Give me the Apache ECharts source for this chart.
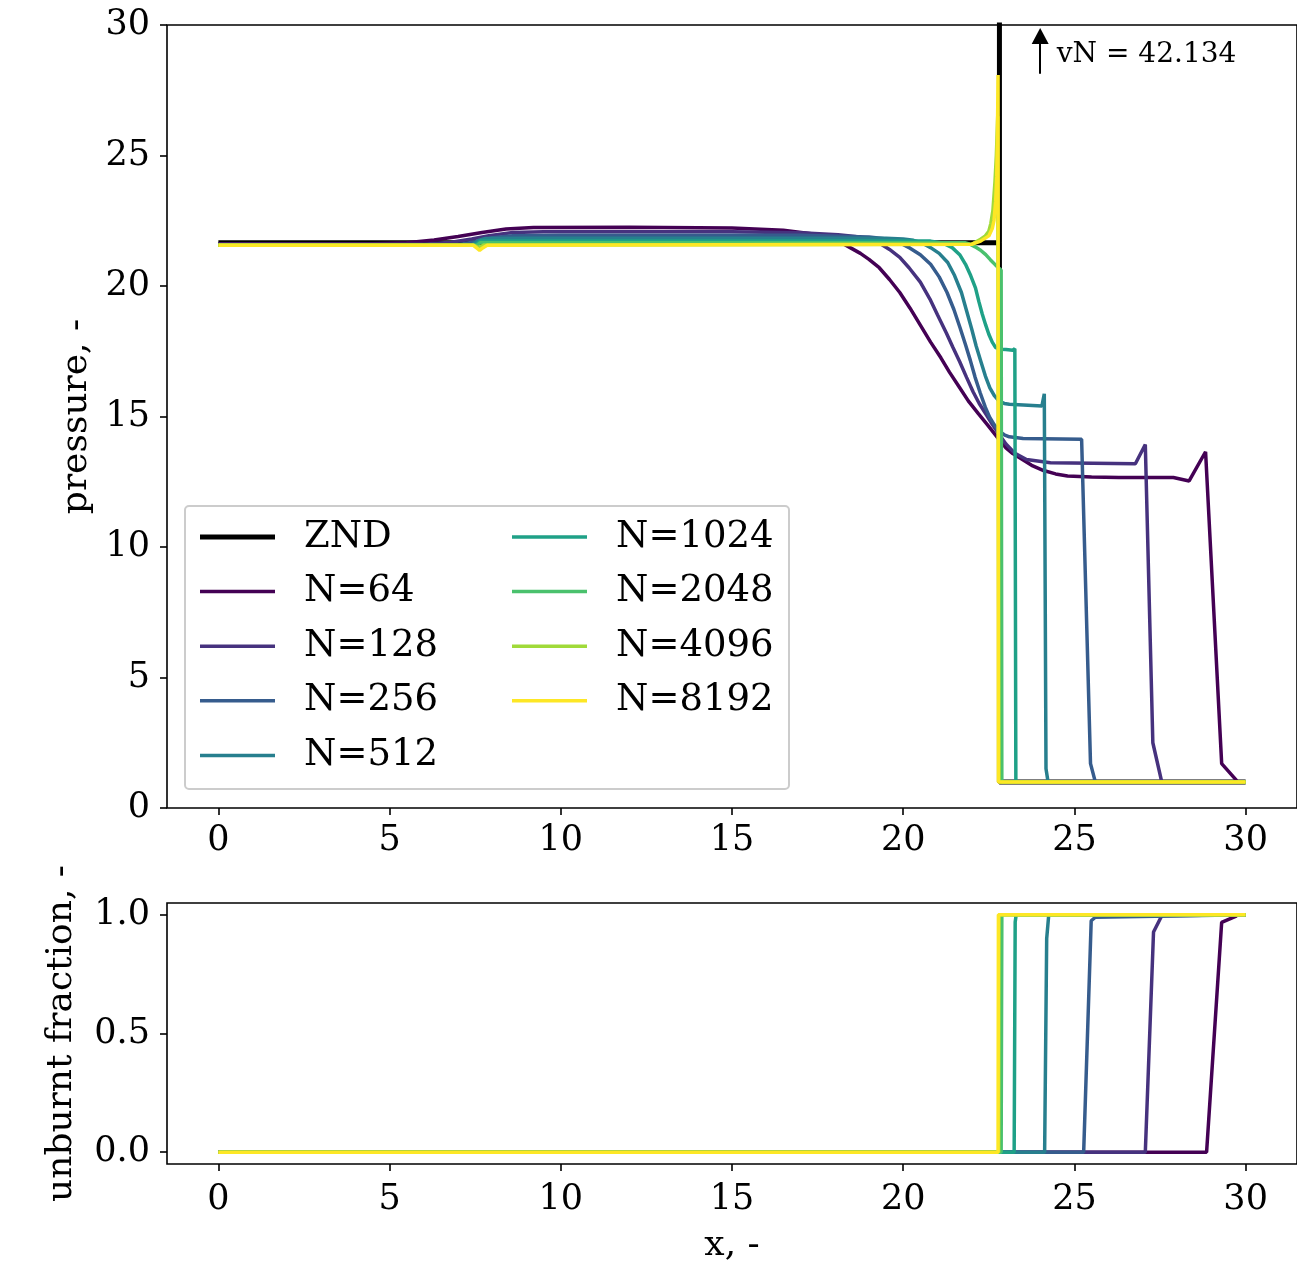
<!DOCTYPE html>
<html><head><meta charset="utf-8">
<script src="https://cdn.jsdelivr.net/npm/echarts@6/dist/echarts.min.js"></script>
<style>html,body{margin:0;padding:0;background:#fff}#c{width:1297px;height:1268px}</style>
</head><body><div id="c"></div>
<script>
// ---------- data ----------
const seriesNames = ['N=64','N=128','N=256','N=512','N=1024','N=2048','N=4096','N=8192'];
const xTicks = [0,5,10,15,20,25,30];
const pTicks = [0,5,10,15,20,25,30];
const uTicks = [0,0.5,1];
const vnValue = 42.134;
const vnArrow = [[24,28.13],[24,29.58]];
const vnLabelAt = [24.47,28.86];

const pZND = [[0,21.66],[22.81,21.66],[22.81,42.134],[22.81,1.0],[30,1.0]];

const p64 = [[0,21.62],[4.5,21.62],[5.5,21.66],[6.3,21.76],[7.0,21.9],[7.7,22.05],[8.4,22.18],[9.2,22.24],[12.0,22.25],[15.0,22.22],[16.5,22.14],[17.6,21.95],[18.0,21.8],[18.45,21.47],[18.75,21.25],[19.0,21.02],[19.3,20.7],[19.6,20.25],[19.9,19.75],[20.2,19.15],[20.5,18.5],[20.8,17.85],[21.1,17.25],[21.35,16.7],[21.65,16.1],[21.9,15.6],[22.2,15.1],[22.45,14.7],[22.75,14.2],[23.0,13.8],[23.2,13.58],[23.4,13.42],[23.75,13.13],[24.1,12.93],[24.45,12.8],[24.8,12.72],[25.5,12.68],[26.3,12.66],[27.89,12.66],[28.35,12.53],[28.83,13.65],[29.30,1.7],[29.74,1.05]];
const p128 = [[0,21.6],[6.0,21.6],[6.8,21.68],[7.4,21.8],[7.9,21.93],[8.6,22.05],[9.5,22.08],[15.0,22.08],[17.0,22.04],[18.1,21.96],[18.6,21.9],[19.0,21.8],[19.3,21.65],[19.6,21.4],[19.9,21.1],[20.17,20.7],[20.5,20.15],[20.78,19.5],[21.0,18.9],[21.26,18.2],[21.45,17.65],[21.65,17.1],[21.85,16.5],[22.04,15.95],[22.22,15.5],[22.41,15.1],[22.6,14.7],[22.8,14.32],[23.0,13.95],[23.25,13.6],[23.6,13.35],[24.3,13.23],[26.78,13.19],[27.07,13.93],[27.29,2.5],[27.55,1.0],[30,1.0]];
const p256 = [[0,21.58],[7.0,21.58],[7.5,21.7],[8.0,21.85],[8.6,21.93],[10,21.94],[17.0,21.94],[19.0,21.88],[19.4,21.82],[19.7,21.72],[19.95,21.62],[20.2,21.45],[20.5,21.2],[20.8,20.83],[21.05,20.35],[21.28,19.75],[21.48,19.1],[21.66,18.4],[21.82,17.75],[21.96,17.15],[22.1,16.5],[22.25,15.9],[22.4,15.35],[22.52,14.98],[22.66,14.68],[22.8,14.44],[22.95,14.3],[23.1,14.22],[23.5,14.16],[25.21,14.13],[25.47,1.7],[25.61,1.0],[30,1.0]];
const p512 = [[0,21.57],[7.4,21.57],[7.6,21.75],[7.8,21.82],[9,21.83],[19.5,21.83],[20.0,21.8],[20.3,21.75],[20.55,21.65],[20.8,21.47],[21.05,21.25],[21.3,20.9],[21.5,20.4],[21.7,19.75],[21.85,19.05],[22.0,18.35],[22.13,17.7],[22.27,17.1],[22.4,16.55],[22.53,16.1],[22.66,15.8],[22.8,15.59],[22.95,15.5],[23.1,15.47],[24.05,15.4],[24.12,15.87],[24.17,1.5],[24.23,1.0],[30,1.0]];
const p1024 = [[0,21.57],[7.5,21.57],[7.65,21.72],[20.8,21.72],[21.15,21.65],[21.43,21.47],[21.65,21.2],[21.82,20.83],[21.97,20.4],[22.11,19.93],[22.21,19.4],[22.31,18.92],[22.41,18.5],[22.5,18.15],[22.6,17.85],[22.7,17.64],[22.85,17.58],[23.0,17.57],[23.2,17.54],[23.26,17.6],[23.29,1.0],[30,1.0]];
const p2048 = [[0,21.56],[7.55,21.56],[7.65,21.66],[21.8,21.66],[21.95,21.6],[22.1,21.5],[22.26,21.37],[22.41,21.2],[22.55,21.0],[22.7,20.8],[22.86,20.6],[22.88,1.0],[30,1.0]];
const p4096 = [[0,21.57],[7.45,21.57],[7.6,21.47],[7.75,21.57],[22.0,21.6],[22.26,21.79],[22.4,21.92],[22.5,22.1],[22.56,22.4],[22.62,22.9],[22.68,24.0],[22.72,25.0],[22.76,26.5],[22.8,1.0],[30,1.0]];
const p8192 = [[0,21.56],[7.45,21.56],[7.55,21.45],[7.63,21.37],[7.72,21.46],[7.85,21.56],[22.0,21.6],[22.26,21.72],[22.5,21.92],[22.6,22.2],[22.65,22.5],[22.7,23.25],[22.73,24.2],[22.75,25.6],[22.77,28.08],[22.78,1.0],[30,1.0]];

const u64 = [[0,0],[28.86,0],[29.30,0.968],[29.74,0.996]];
const u128 = [[0,0],[27.07,0],[27.31,0.928],[27.55,0.996],[30,1]];
const u256 = [[0,0],[25.27,0],[25.49,0.975],[25.61,0.99],[30,1]];
const u512 = [[0,0],[24.13,0],[24.19,0.9],[24.25,1],[30,1]];
const u1024 = [[0,0],[23.24,0],[23.27,0.97],[23.3,1],[30,1]];
const u2048 = [[0,0],[22.86,0],[22.88,1],[30,1]];
const u4096 = [[0,0],[22.79,0],[22.8,1],[30,1]];
const u8192 = [[0,0],[22.77,0],[22.78,1],[30,1]];

const pressureSets = [p64,p128,p256,p512,p1024,p2048,p4096,p8192];
const unburntSets = [u64,u128,u256,u512,u1024,u2048,u4096,u8192];

// ---------- style ----------
const viridis = ['#440154','#46327e','#365c8d','#277f8e','#1fa187','#4ac16d','#a0da39','#fde725'];
const FONT = 'DejaVu Serif';
const TICK_FS = 35;
const LW = 3.5, ZND_LW = 5;

function xAxisDef(gi, margin, extra) {
  return Object.assign({
    gridIndex: gi, type: 'value', min: -1.5, max: 31.5,
    axisLine: {show: false, onZero: false},
    splitLine: {show: false},
    axisTick: {show: true, length: 7, customValues: xTicks, lineStyle: {color: '#000', width: 1.6}},
    axisLabel: {customValues: xTicks, fontFamily: FONT, fontSize: TICK_FS, color: '#000', margin: margin}
  }, extra || {});
}
function yAxisDef(gi, min, max, ticks, fmt, extra) {
  return Object.assign({
    gridIndex: gi, type: 'value', min: min, max: max,
    axisLine: {show: false, onZero: false},
    splitLine: {show: false},
    axisTick: {show: true, length: 7, customValues: ticks, lineStyle: {color: '#000', width: 1.6}},
    axisLabel: {customValues: ticks, fontFamily: FONT, fontSize: TICK_FS, color: '#000', margin: 17,
      padding: [9, 0, 0, 0], formatter: fmt}
  }, extra || {});
}

const series = [];
series.push({
  name: 'ZND', type: 'line', xAxisIndex: 0, yAxisIndex: 0, data: pZND,
  symbol: 'none', lineStyle: {color: '#000', width: ZND_LW}, itemStyle: {color: '#000'},
  clip: true, silent: true,
  markLine: {
    silent: true, symbol: ['none', 'triangle'], symbolSize: [17, 16],
    lineStyle: {color: '#000', width: 2, type: 'solid'}, label: {show: false},
    data: [[{coord: vnArrow[0]}, {coord: vnArrow[1]}]]
  },
  markPoint: {
    silent: true,
    data: [{coord: vnLabelAt, symbol: 'circle', symbolSize: 1, itemStyle: {color: 'rgba(0,0,0,0)'},
      label: {show: true, position: 'right', distance: 0, formatter: 'vN = ' + vnValue,
        fontFamily: FONT, fontSize: 28, color: '#000'}}]
  }
});
seriesNames.forEach((n, i) => {
  series.push({name: n, type: 'line', xAxisIndex: 0, yAxisIndex: 0, data: pressureSets[i],
    symbol: 'none', lineStyle: {color: viridis[i], width: LW}, itemStyle: {color: viridis[i]}, clip: true, silent: true});
});
seriesNames.forEach((n, i) => {
  series.push({name: n, type: 'line', xAxisIndex: 1, yAxisIndex: 1, data: unburntSets[i],
    symbol: 'none', lineStyle: {color: viridis[i], width: LW}, itemStyle: {color: viridis[i]}, clip: true, silent: true});
});

const iconZND = 'path://M0,0h75v5h-75z';
const iconN = 'path://M0,0h75v3.5h-75z';
const legendCommon = {
  orient: 'vertical', padding: 0, itemWidth: 75, itemHeight: 14, itemGap: 14.6,
  selectedMode: false, itemStyle: {borderWidth: 0},
  textStyle: {fontFamily: FONT, fontSize: 37, color: '#000', lineHeight: 40, padding: [0, 0, 0, 24]}
};
const col1 = ['ZND', 'N=64', 'N=128', 'N=256', 'N=512'];
const col2 = ['N=1024', 'N=2048', 'N=4096', 'N=8192'];

const option = {
  animation: false,
  backgroundColor: '#fff',
  grid: [
    {left: 167, top: 25, right: -2, bottom: 460, show: true, borderColor: '#000', borderWidth: 1.6, backgroundColor: 'transparent'},
    {left: 167, top: 903, right: -2, bottom: 104, show: true, borderColor: '#000', borderWidth: 1.6, backgroundColor: 'transparent'}
  ],
  xAxis: [
    xAxisDef(0, 15),
    xAxisDef(1, 18, {name: 'x, -', nameLocation: 'middle', nameGap: 64,
      nameTextStyle: {fontFamily: FONT, fontSize: 36, color: '#000'}})
  ],
  yAxis: [
    yAxisDef(0, 0, 30, pTicks, v => String(v), {name: 'pressure, -', nameLocation: 'middle', nameGap: 70,
      nameTextStyle: {fontFamily: FONT, fontSize: 36, color: '#000'}}),
    yAxisDef(1, -0.05, 1.05, uTicks, v => v.toFixed(1), {name: 'unburnt fraction, -', nameLocation: 'middle', nameGap: 87,
      nameTextStyle: {fontFamily: FONT, fontSize: 36, color: '#000'}})
  ],
  legend: [
    Object.assign({left: 200, top: 517, data: col1.map(n => ({name: n, icon: n === 'ZND' ? iconZND : iconN}))}, legendCommon),
    Object.assign({left: 512, top: 517, data: col2.map(n => ({name: n, icon: iconN}))}, legendCommon)
  ],
  graphic: [
    {type: 'rect', left: 184, top: 505, z: 3, shape: {width: 604, height: 283, r: 4},
      style: {fill: 'rgba(255,255,255,0.8)', stroke: '#cccccc', lineWidth: 2}}
  ],
  series: series
};

const chart = echarts.init(document.getElementById('c'), null, {renderer: 'canvas'});
chart.setOption(option);
</script>
</body></html>
